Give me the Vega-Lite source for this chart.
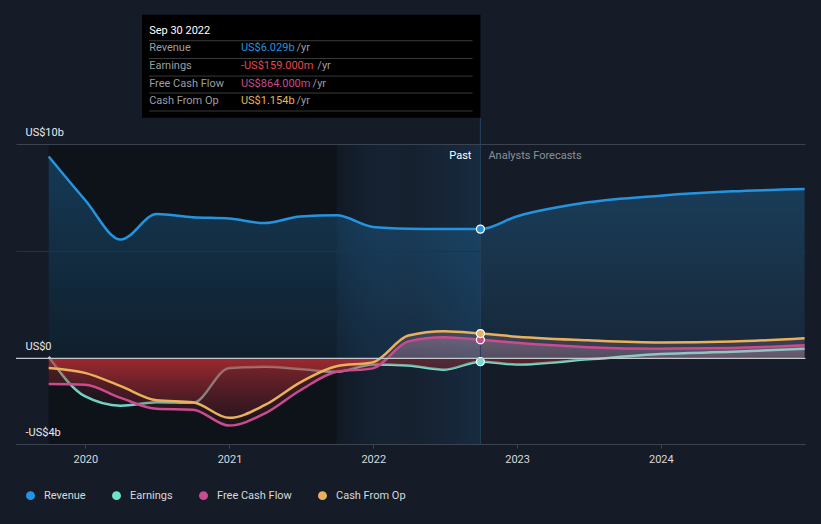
{
  "$schema": "https://vega.github.io/schema/vega-lite/v6.json",
  "width": 789,
  "height": 300,
  "autosize": {"type": "none"},
  "padding": {"left": 16, "top": 144, "right": 16, "bottom": 80},
  "background": "#161c27",
  "config": {
    "view": {"stroke": null},
    "font": "Roboto",
    "axisX": {"domainColor": "#3b4350", "tickColor": "#3b4350", "tickSize": 4, "labelColor": "#d6d9de", "labelFontSize": 11, "labelPadding": 5, "grid": false, "title": null},
    "axisY": {"domain": false, "ticks": false, "tickSize": 0, "labelAlign": "left", "labelBaseline": "alphabetic", "labelPadding": -9, "labelOffset": -9, "labelColor": "#e8eaed", "labelFontSize": 11, "gridColor": "#3b4350", "title": null},
    "legend": {"orient": "none", "direction": "horizontal", "legendX": 9, "legendY": 346, "padding": 0, "labelColor": "#d6d9de", "labelFontSize": 11, "labelFont": "Roboto", "columnPadding": 19, "labelOffset": 8, "title": null}
  },
  "datasets": {
    "fin": [
      {"date": "2019-09-30", "series": "Revenue", "value": 9.42},
      {"date": "2019-12-31", "series": "Revenue", "value": 7.40},
      {"date": "2020-03-31", "series": "Revenue", "value": 5.54},
      {"date": "2020-06-30", "series": "Revenue", "value": 6.73},
      {"date": "2020-09-30", "series": "Revenue", "value": 6.58},
      {"date": "2020-12-31", "series": "Revenue", "value": 6.52},
      {"date": "2021-03-31", "series": "Revenue", "value": 6.31},
      {"date": "2021-06-30", "series": "Revenue", "value": 6.62},
      {"date": "2021-09-30", "series": "Revenue", "value": 6.67},
      {"date": "2021-12-31", "series": "Revenue", "value": 6.13},
      {"date": "2022-03-31", "series": "Revenue", "value": 6.05},
      {"date": "2022-06-30", "series": "Revenue", "value": 6.03},
      {"date": "2022-09-30", "series": "Revenue", "value": 6.029},
      {"date": "2022-12-31", "series": "Revenue", "value": 6.62},
      {"date": "2023-06-30", "series": "Revenue", "value": 7.28},
      {"date": "2023-12-31", "series": "Revenue", "value": 7.59},
      {"date": "2024-06-30", "series": "Revenue", "value": 7.79},
      {"date": "2024-12-31", "series": "Revenue", "value": 7.90},
      {"date": "2019-09-30", "series": "Earnings", "value": 0.07},
      {"date": "2019-12-31", "series": "Earnings", "value": -1.77},
      {"date": "2020-03-31", "series": "Earnings", "value": -2.21},
      {"date": "2020-06-30", "series": "Earnings", "value": -2.05},
      {"date": "2020-09-30", "series": "Earnings", "value": -2.08},
      {"date": "2020-12-31", "series": "Earnings", "value": -0.45},
      {"date": "2021-03-31", "series": "Earnings", "value": -0.40},
      {"date": "2021-06-30", "series": "Earnings", "value": -0.50},
      {"date": "2021-09-30", "series": "Earnings", "value": -0.63},
      {"date": "2021-12-31", "series": "Earnings", "value": -0.29},
      {"date": "2022-03-31", "series": "Earnings", "value": -0.34},
      {"date": "2022-06-30", "series": "Earnings", "value": -0.53},
      {"date": "2022-09-30", "series": "Earnings", "value": -0.159},
      {"date": "2022-12-31", "series": "Earnings", "value": -0.29},
      {"date": "2023-06-30", "series": "Earnings", "value": -0.05},
      {"date": "2023-12-31", "series": "Earnings", "value": 0.20},
      {"date": "2024-06-30", "series": "Earnings", "value": 0.30},
      {"date": "2024-12-31", "series": "Earnings", "value": 0.44},
      {"date": "2019-09-30", "series": "Free Cash Flow", "value": -1.20},
      {"date": "2019-12-31", "series": "Free Cash Flow", "value": -1.23},
      {"date": "2020-03-31", "series": "Free Cash Flow", "value": -1.85},
      {"date": "2020-06-30", "series": "Free Cash Flow", "value": -2.36},
      {"date": "2020-09-30", "series": "Free Cash Flow", "value": -2.40},
      {"date": "2020-12-31", "series": "Free Cash Flow", "value": -3.14},
      {"date": "2021-03-31", "series": "Free Cash Flow", "value": -2.58},
      {"date": "2021-06-30", "series": "Free Cash Flow", "value": -1.49},
      {"date": "2021-09-30", "series": "Free Cash Flow", "value": -0.63},
      {"date": "2021-12-31", "series": "Free Cash Flow", "value": -0.47},
      {"date": "2022-03-31", "series": "Free Cash Flow", "value": 0.79},
      {"date": "2022-06-30", "series": "Free Cash Flow", "value": 0.98},
      {"date": "2022-09-30", "series": "Free Cash Flow", "value": 0.864},
      {"date": "2022-12-31", "series": "Free Cash Flow", "value": 0.72},
      {"date": "2023-06-30", "series": "Free Cash Flow", "value": 0.52},
      {"date": "2023-12-31", "series": "Free Cash Flow", "value": 0.45},
      {"date": "2024-06-30", "series": "Free Cash Flow", "value": 0.48},
      {"date": "2024-12-31", "series": "Free Cash Flow", "value": 0.61},
      {"date": "2019-09-30", "series": "Cash From Op", "value": -0.45},
      {"date": "2019-12-31", "series": "Cash From Op", "value": -0.68},
      {"date": "2020-03-31", "series": "Cash From Op", "value": -1.30},
      {"date": "2020-06-30", "series": "Cash From Op", "value": -1.96},
      {"date": "2020-09-30", "series": "Cash From Op", "value": -2.05},
      {"date": "2020-12-31", "series": "Cash From Op", "value": -2.78},
      {"date": "2021-03-31", "series": "Cash From Op", "value": -2.19},
      {"date": "2021-06-30", "series": "Cash From Op", "value": -1.12},
      {"date": "2021-09-30", "series": "Cash From Op", "value": -0.37},
      {"date": "2021-12-31", "series": "Cash From Op", "value": -0.19},
      {"date": "2022-03-31", "series": "Cash From Op", "value": 1.06},
      {"date": "2022-06-30", "series": "Cash From Op", "value": 1.26},
      {"date": "2022-09-30", "series": "Cash From Op", "value": 1.154},
      {"date": "2022-12-31", "series": "Cash From Op", "value": 1.01},
      {"date": "2023-06-30", "series": "Cash From Op", "value": 0.84},
      {"date": "2023-12-31", "series": "Cash From Op", "value": 0.74},
      {"date": "2024-06-30", "series": "Cash From Op", "value": 0.78},
      {"date": "2024-12-31", "series": "Cash From Op", "value": 0.94}
    ]
  },
  "data": {"name": "fin"},
  "layer": [
    {
      "data": {"values": [{}]},
      "mark": {"type": "rect", "fill": "#0c1017", "opacity": 0.75},
      "encoding": {
        "x": {"datum": {"year": 2019, "month": 9, "date": 30, "utc": true}, "type": "temporal", "title": null, "scale": {"domain": ["2019-07-09", "2025-01-01"]}, "axis": {"values": [{"year": 2020, "utc": true}, {"year": 2021, "utc": true}, {"year": 2022, "utc": true}, {"year": 2023, "utc": true}, {"year": 2024, "utc": true}], "format": "%Y"}},
        "x2": {"datum": {"year": 2021, "month": 9, "date": 30, "utc": true}},
        "y": {"datum": 10, "type": "quantitative", "title": null, "scale": {"domain": [-4, 10], "nice": false, "zero": false}, "axis": {"values": [-4, 0, 5, 10], "grid": true, "zindex": 2, "labelExpr": "datum.value == 10 ? 'US$10b' : datum.value == 0 ? 'US$0' : datum.value == -4 ? '-US$4b' : ''", "gridColor": {"condition": [{"test": "datum.value == 5", "value": "#263244"}, {"test": "datum.value == 0", "value": "#c4c7cc"}], "value": "#3b4350"}}},
        "y2": {"datum": -4}
      }
    },
    {
      "data": {"values": [{}]},
      "mark": {"type": "rect", "fill": {"gradient": "linear", "x1": 0, "y1": 0, "x2": 1, "y2": 0, "stops": [{"offset": 0, "color": "rgba(14,22,32,0.6)"}, {"offset": 0.5, "color": "rgba(22,60,95,0.15)"}, {"offset": 1, "color": "rgba(25,85,135,0.26)"}]}},
      "encoding": {
        "x": {"datum": {"year": 2021, "month": 9, "date": 30, "utc": true}, "type": "temporal", "title": null},
        "x2": {"datum": {"year": 2022, "month": 9, "date": 30, "utc": true}},
        "y": {"datum": 10, "type": "quantitative", "title": null},
        "y2": {"datum": -4}
      }
    },
    {
      "transform": [{"filter": "datum.series == 'Revenue'"}],
      "mark": {"type": "area", "interpolate": "monotone", "fill": {"gradient": "linear", "x1": 0, "y1": 0, "x2": 0, "y2": 1, "stops": [{"offset": 0, "color": "rgba(35,148,223,0.30)"}, {"offset": 1, "color": "rgba(35,148,223,0.09)"}]}},
      "encoding": {
        "x": {"field": "date", "type": "temporal", "title": null},
        "y": {"field": "value", "type": "quantitative", "title": null},
        "y2": {"datum": 0}
      }
    },
    {
      "transform": [{"filter": "datum.series == 'Earnings'"}],
      "mark": {"type": "line", "interpolate": "monotone", "strokeWidth": 2.5},
      "encoding": {
        "x": {"field": "date", "type": "temporal", "title": null},
        "y": {"field": "value", "type": "quantitative", "title": null},
        "color": {"field": "series", "type": "nominal", "scale": {"domain": ["Revenue", "Earnings", "Free Cash Flow", "Cash From Op"], "range": ["#2394df", "#6ee2cf", "#c94c8e", "#e9b15c"]}, "legend": {"symbolType": "circle", "symbolSize": 20, "symbolStrokeWidth": 4.5, "columnPadding": 19, "labelOffset": 8}}
      }
    },
    {
      "transform": [{"filter": "datum.series == 'Earnings'"}],
      "mark": {"type": "area", "interpolate": "monotone", "fill": {"gradient": "linear", "x1": 0, "y1": 0, "x2": 0, "y2": 1, "stops": [{"offset": 0, "color": "rgba(190,150,170,0.15)"}, {"offset": 0.16, "color": "rgba(190,150,170,0.1)"}, {"offset": 0.168, "color": "rgba(195,48,52,0.38)"}, {"offset": 1, "color": "rgba(120,30,45,0.1)"}]}},
      "encoding": {
        "x": {"field": "date", "type": "temporal", "title": null},
        "y": {"field": "value", "type": "quantitative", "title": null},
        "y2": {"datum": 0}
      }
    },
    {
      "transform": [{"filter": "datum.series == 'Free Cash Flow'"}],
      "mark": {"type": "area", "interpolate": "monotone", "fill": {"gradient": "linear", "x1": 0, "y1": 0, "x2": 0, "y2": 1, "stops": [{"offset": 0, "color": "rgba(200,150,175,0.32)"}, {"offset": 0.234, "color": "rgba(200,150,175,0.22)"}, {"offset": 0.24, "color": "rgba(195,48,52,0.4)"}, {"offset": 1, "color": "rgba(120,30,45,0.14)"}]}},
      "encoding": {
        "x": {"field": "date", "type": "temporal", "title": null},
        "y": {"field": "value", "type": "quantitative", "title": null},
        "y2": {"datum": 0}
      }
    },
    {
      "transform": [{"filter": "datum.series == 'Cash From Op'"}],
      "mark": {"type": "area", "interpolate": "monotone", "fill": {"gradient": "linear", "x1": 0, "y1": 0, "x2": 0, "y2": 1, "stops": [{"offset": 0, "color": "rgba(200,150,175,0.22)"}, {"offset": 0.308, "color": "rgba(200,150,175,0.15)"}, {"offset": 0.314, "color": "rgba(195,48,52,0.4)"}, {"offset": 1, "color": "rgba(120,30,45,0.14)"}]}},
      "encoding": {
        "x": {"field": "date", "type": "temporal", "title": null},
        "y": {"field": "value", "type": "quantitative", "title": null},
        "y2": {"datum": 0}
      }
    },
    {
      "data": {"values": [{}]},
      "mark": {"type": "rule", "color": "#c4c7cc", "strokeWidth": 1.2},
      "encoding": {"y": {"datum": 0, "type": "quantitative", "title": null}}
    },
    {
      "transform": [{"filter": "datum.series != 'Earnings'"}],
      "mark": {"type": "line", "interpolate": "monotone", "strokeWidth": 2.5},
      "encoding": {
        "x": {"field": "date", "type": "temporal", "title": null},
        "y": {"field": "value", "type": "quantitative", "title": null},
        "color": {"field": "series", "type": "nominal"},
        "detail": {"field": "series"}
      }
    },
    {
      "data": {"values": [{}]},
      "mark": {"type": "rule", "color": "#21405d", "strokeWidth": 1},
      "encoding": {
        "x": {"datum": {"year": 2022, "month": 9, "date": 30, "utc": true}, "type": "temporal", "title": null},
        "y": {"datum": 11.23, "type": "quantitative", "title": null},
        "y2": {"datum": -4}
      }
    },
    {
      "transform": [{"filter": "utcyear(datum.date) == 2022 && utcmonth(datum.date) == 8 && utcdate(datum.date) == 30"}],
      "mark": {"type": "point", "filled": true, "size": 64, "opacity": 1, "stroke": "#ffffff", "strokeWidth": 1.3},
      "encoding": {
        "x": {"field": "date", "type": "temporal", "title": null},
        "y": {"field": "value", "type": "quantitative", "title": null},
        "fill": {"field": "series", "type": "nominal", "scale": {"domain": ["Revenue", "Earnings", "Free Cash Flow", "Cash From Op"], "range": ["#2394df", "#6ee2cf", "#c94c8e", "#e9b15c"]}, "legend": null}
      }
    },
    {
      "data": {"values": [{}]},
      "mark": {"type": "text", "text": "Past", "align": "right", "baseline": "middle", "dx": -9, "color": "#ffffff", "fontSize": 11},
      "encoding": {"x": {"datum": {"year": 2022, "month": 9, "date": 30, "utc": true}, "type": "temporal", "title": null}, "y": {"datum": 9.45, "type": "quantitative", "title": null}}
    },
    {
      "data": {"values": [{}]},
      "mark": {"type": "text", "text": "Analysts Forecasts", "align": "left", "baseline": "middle", "dx": 8, "color": "#8b9099", "fontSize": 11},
      "encoding": {"x": {"datum": {"year": 2022, "month": 9, "date": 30, "utc": true}, "type": "temporal", "title": null}, "y": {"datum": 9.45, "type": "quantitative", "title": null}}
    },
    {
      "data": {"values": [{}]},
      "mark": {"type": "rect", "fill": "#000000"},
      "encoding": {
        "x": {"datum": {"year": 2020, "month": 5, "date": 24, "utc": true}, "type": "temporal", "title": null},
        "x2": {"datum": {"year": 2022, "month": 9, "date": 30, "utc": true}},
        "y": {"datum": 16.03, "type": "quantitative", "title": null},
        "y2": {"datum": 11.23}
      }
    },
    {
      "data": {"values": [{"sep": 14.82}, {"sep": 13.99}, {"sep": 13.17}, {"sep": 12.38}, {"sep": 11.54}]},
      "mark": {"type": "rule", "color": "#3a3a3a", "strokeWidth": 1},
      "encoding": {
        "x": {"datum": {"year": 2020, "month": 6, "date": 11, "utc": true}, "type": "temporal", "title": null},
        "x2": {"datum": {"year": 2022, "month": 9, "date": 10, "utc": true}},
        "y": {"field": "sep", "type": "quantitative", "title": null}
      }
    },
    {
      "data": {"values": [{}]},
      "mark": {"type": "text", "text": "Sep 30 2022", "align": "left", "baseline": "middle", "color": "#ffffff", "fontSize": 11},
      "encoding": {"x": {"datum": {"year": 2020, "month": 6, "date": 11, "utc": true}, "type": "temporal", "title": null}, "y": {"datum": 15.28, "type": "quantitative", "title": null}}
    },
    {
      "data": {"values": [{"label": "Revenue", "pos": 14.47}, {"label": "Earnings", "pos": 13.65}, {"label": "Free Cash Flow", "pos": 12.81}, {"label": "Cash From Op", "pos": 12.0}]},
      "mark": {"type": "text", "align": "left", "baseline": "middle", "color": "#9a9ea5", "fontSize": 11},
      "encoding": {"x": {"datum": {"year": 2020, "month": 6, "date": 11, "utc": true}, "type": "temporal", "title": null}, "y": {"field": "pos", "type": "quantitative", "title": null}, "text": {"field": "label"}}
    },
    {
      "data": {"values": [{}]},
      "mark": {"type": "text", "text": "US$6.029b", "align": "left", "baseline": "middle", "color": "#2394df", "fontSize": 11},
      "encoding": {"x": {"datum": {"year": 2021, "month": 1, "date": 30, "utc": true}, "type": "temporal", "title": null}, "y": {"datum": 14.47, "type": "quantitative", "title": null}}
    },
    {
      "data": {"values": [{}]},
      "mark": {"type": "text", "text": "-US$159.000m", "align": "left", "baseline": "middle", "color": "#e8474c", "fontSize": 11},
      "encoding": {"x": {"datum": {"year": 2021, "month": 1, "date": 30, "utc": true}, "type": "temporal", "title": null}, "y": {"datum": 13.65, "type": "quantitative", "title": null}}
    },
    {
      "data": {"values": [{}]},
      "mark": {"type": "text", "text": "US$864.000m", "align": "left", "baseline": "middle", "color": "#c94c8e", "fontSize": 11},
      "encoding": {"x": {"datum": {"year": 2021, "month": 1, "date": 30, "utc": true}, "type": "temporal", "title": null}, "y": {"datum": 12.81, "type": "quantitative", "title": null}}
    },
    {
      "data": {"values": [{}]},
      "mark": {"type": "text", "text": "US$1.154b", "align": "left", "baseline": "middle", "color": "#e9b15c", "fontSize": 11},
      "encoding": {"x": {"datum": {"year": 2021, "month": 1, "date": 30, "utc": true}, "type": "temporal", "title": null}, "y": {"datum": 12.0, "type": "quantitative", "title": null}}
    },
    {
      "data": {"values": [{}]},
      "mark": {"type": "text", "text": "/yr", "align": "left", "baseline": "middle", "color": "#9a9ea5", "fontSize": 11},
      "encoding": {"x": {"datum": {"year": 2021, "month": 6, "date": 20, "utc": true}, "type": "temporal", "title": null}, "y": {"datum": 14.47, "type": "quantitative", "title": null}}
    },
    {
      "data": {"values": [{}]},
      "mark": {"type": "text", "text": "/yr", "align": "left", "baseline": "middle", "color": "#9a9ea5", "fontSize": 11},
      "encoding": {"x": {"datum": {"year": 2021, "month": 8, "date": 12, "utc": true}, "type": "temporal", "title": null}, "y": {"datum": 13.65, "type": "quantitative", "title": null}}
    },
    {
      "data": {"values": [{}]},
      "mark": {"type": "text", "text": "/yr", "align": "left", "baseline": "middle", "color": "#9a9ea5", "fontSize": 11},
      "encoding": {"x": {"datum": {"year": 2021, "month": 7, "date": 31, "utc": true}, "type": "temporal", "title": null}, "y": {"datum": 12.81, "type": "quantitative", "title": null}}
    },
    {
      "data": {"values": [{}]},
      "mark": {"type": "text", "text": "/yr", "align": "left", "baseline": "middle", "color": "#9a9ea5", "fontSize": 11},
      "encoding": {"x": {"datum": {"year": 2021, "month": 6, "date": 20, "utc": true}, "type": "temporal", "title": null}, "y": {"datum": 12.0, "type": "quantitative", "title": null}}
    }
  ]
}
